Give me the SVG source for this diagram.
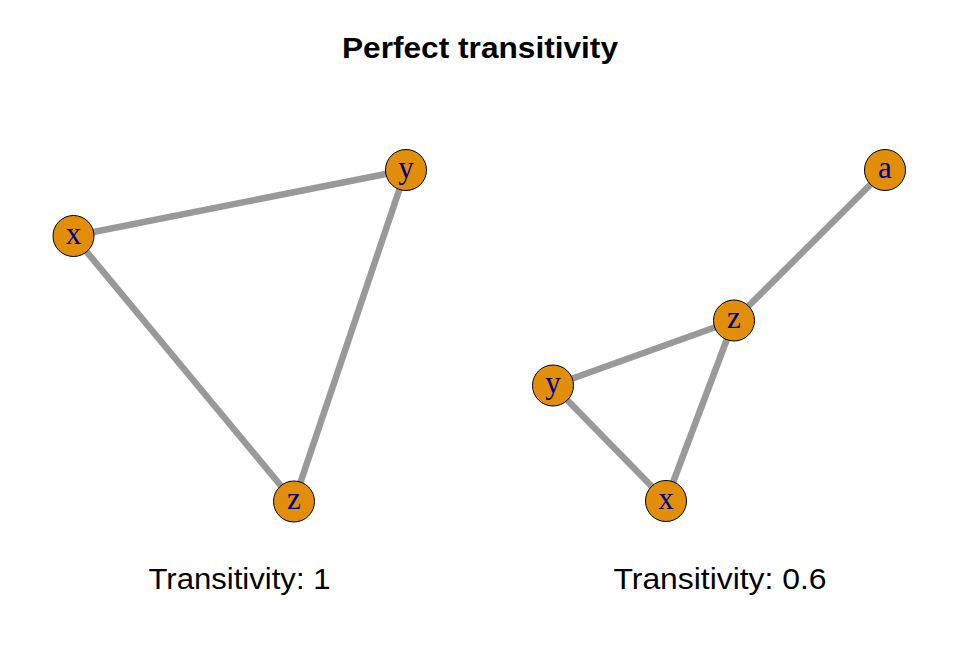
<svg xmlns="http://www.w3.org/2000/svg" width="960" height="672" viewBox="0 0 960 672">
<style>
.edge{stroke:#999999;stroke-width:6.5;fill:none}
.node circle{fill:#E18E0A;stroke:#000000;stroke-width:1}
.node text{font-family:"Liberation Serif","Times New Roman",serif;font-size:31px;fill:#00008B;text-anchor:middle}
.title{font-family:"Liberation Sans",Arial,sans-serif;font-size:29px;font-weight:bold;fill:#000;text-anchor:middle}
.label{font-family:"Liberation Sans",Arial,sans-serif;font-size:29.5px;fill:#000;text-anchor:middle}
</style>
<rect width="960" height="672" fill="#ffffff"/>
<text class="title" x="480" y="57.5" textLength="276" lengthAdjust="spacingAndGlyphs">Perfect transitivity</text>
<g id="connectors">
<line class="edge" x1="73.5" y1="236" x2="406" y2="170"/>
<line class="edge" x1="73.5" y1="236" x2="294" y2="501.5"/>
<line class="edge" x1="406" y1="170" x2="294" y2="501.5"/>
<line class="edge" x1="553" y1="385.5" x2="734" y2="320.5"/>
<line class="edge" x1="553" y1="385.5" x2="666" y2="501"/>
<line class="edge" x1="666" y1="501" x2="734" y2="320.5"/>
<line class="edge" x1="734" y1="320.5" x2="885" y2="170"/>
</g>
<g id="g1-x" class="node"><circle cx="73.5" cy="236" r="20.5"/><text x="73.5" y="243.5">x</text></g>
<g id="g1-y" class="node"><circle cx="406" cy="170" r="20.5"/><text x="406" y="177.5">y</text></g>
<g id="g1-z" class="node"><circle cx="294" cy="501.5" r="20.5"/><text x="294" y="509">z</text></g>
<g id="g2-y" class="node"><circle cx="553" cy="385.5" r="20.5"/><text x="553" y="393">y</text></g>
<g id="g2-z" class="node"><circle cx="734" cy="320.5" r="20.5"/><text x="734" y="328">z</text></g>
<g id="g2-x" class="node"><circle cx="666" cy="501" r="20.5"/><text x="666" y="508.5">x</text></g>
<g id="g2-a" class="node"><circle cx="885" cy="170" r="20.5"/><text x="885" y="177.5">a</text></g>
<text class="label" x="239.5" y="589" textLength="182" lengthAdjust="spacingAndGlyphs">Transitivity: 1</text>
<text class="label" x="720" y="589" textLength="213" lengthAdjust="spacingAndGlyphs">Transitivity: 0.6</text>
</svg>
